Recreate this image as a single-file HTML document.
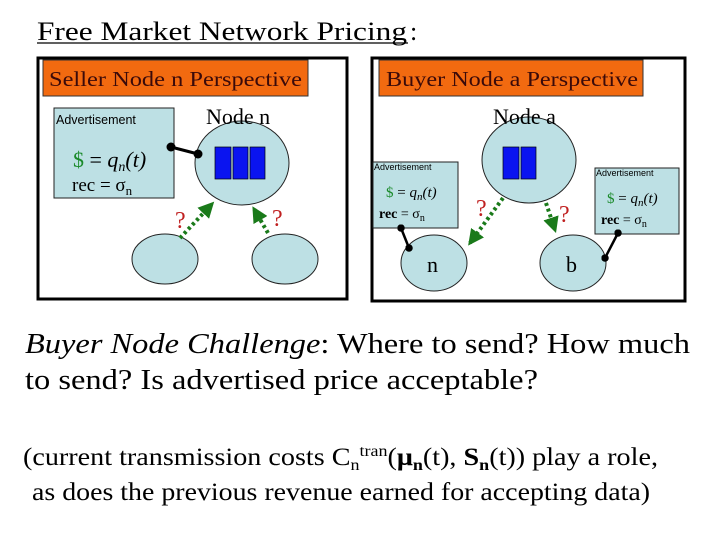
<!DOCTYPE html>
<html><head><meta charset="utf-8"><style>
html,body{margin:0;padding:0;background:#fff;}
svg{display:block;font-family:"Liberation Serif",serif;}
.s{font-family:"Liberation Sans",sans-serif;}
</style></head><body>
<svg width="720" height="540" viewBox="0 0 720 540" xmlns="http://www.w3.org/2000/svg">
<defs>
<marker id="ah" viewBox="0 0 10 10" refX="8" refY="5" markerWidth="4" markerHeight="4" orient="auto"><path d="M0,0 L10,5 L0,10 z" fill="#1a7a1a"/></marker>
<marker id="dot" viewBox="0 0 10 10" refX="5" refY="5" markerWidth="3" markerHeight="3"><circle cx="5" cy="5" r="5" fill="#000"/></marker>
</defs>
<text x="37" y="40" font-size="26" textLength="370" lengthAdjust="spacingAndGlyphs">Free Market Network Pricing</text>
<text x="410" y="40" font-size="26">:</text>
<line x1="37" y1="43" x2="408" y2="43" stroke="#000" stroke-width="1.2"/>

<!-- Left panel -->
<rect x="38" y="58" width="309" height="241" fill="#fff" stroke="#000" stroke-width="3"/>
<rect x="43" y="60" width="265" height="36" fill="#f26a10" stroke="#333" stroke-width="1"/>
<text x="49" y="86" font-size="21" fill="#3a0a0a" textLength="253" lengthAdjust="spacingAndGlyphs">Seller  Node n Perspective</text>
<rect x="54" y="108" width="120" height="90" fill="#bde0e4" stroke="#222" stroke-width="1"/>
<text class="s" x="56" y="124" font-size="12.5">Advertisement</text>
<text x="73" y="167" font-size="22"><tspan fill="#1a8a2a">$</tspan> = <tspan font-style="italic">q<tspan font-size="14" dy="4">n</tspan><tspan dy="-4">(t)</tspan></tspan></text>
<text x="72" y="191" font-size="19">rec = σ<tspan font-size="13" dy="4">n</tspan></text>
<ellipse cx="242" cy="163" rx="47" ry="42" fill="#bde0e4" stroke="#222" stroke-width="1"/>
<text x="206" y="124" font-size="22">Node n</text>
<rect x="215" y="147" width="16" height="32" fill="#0a14f0" stroke="#000" stroke-width="0.7"/>
<rect x="233" y="147" width="15" height="32" fill="#0a14f0" stroke="#000" stroke-width="0.7"/>
<rect x="250" y="147" width="15" height="32" fill="#0a14f0" stroke="#000" stroke-width="0.7"/>
<line x1="171" y1="147" x2="198" y2="154" stroke="#000" stroke-width="3" marker-start="url(#dot)" marker-end="url(#dot)"/>
<ellipse cx="165" cy="259" rx="33" ry="25" fill="#bde0e4" stroke="#222" stroke-width="1"/>
<ellipse cx="285" cy="259" rx="33" ry="25" fill="#bde0e4" stroke="#222" stroke-width="1"/>
<line x1="180" y1="238" x2="212" y2="204" stroke="#1a7a1a" stroke-width="4" stroke-dasharray="3,3" marker-end="url(#ah)"/>
<line x1="268" y1="233" x2="254" y2="209" stroke="#1a7a1a" stroke-width="4" stroke-dasharray="3,3" marker-end="url(#ah)"/>
<text x="175" y="228" font-size="24" fill="#c02020">?</text>
<text x="272" y="226" font-size="24" fill="#c02020">?</text>

<!-- Right panel -->
<rect x="372" y="58" width="313" height="243" fill="#fff" stroke="#000" stroke-width="3"/>
<rect x="379" y="60" width="264" height="36" fill="#f26a10" stroke="#333" stroke-width="1"/>
<text x="386" y="86" font-size="21" fill="#3a0a0a" textLength="252" lengthAdjust="spacingAndGlyphs">Buyer  Node a Perspective</text>
<ellipse cx="529" cy="160" rx="47" ry="43" fill="#bde0e4" stroke="#222" stroke-width="1"/>
<text x="493" y="124" font-size="22">Node a</text>
<rect x="503" y="147" width="16" height="32" fill="#0a14f0" stroke="#000" stroke-width="0.7"/>
<rect x="521" y="147" width="15" height="32" fill="#0a14f0" stroke="#000" stroke-width="0.7"/>
<rect x="373" y="162" width="85" height="66" fill="#bde0e4" stroke="#222" stroke-width="1"/>
<text class="s" x="374" y="170" font-size="9">Advertisement</text>
<text x="386" y="197" font-size="15"><tspan fill="#1a8a2a">$</tspan> = <tspan font-style="italic">q<tspan font-size="11" dy="3">n</tspan><tspan dy="-3">(t)</tspan></tspan></text>
<text x="379" y="218" font-size="14"><tspan font-weight="bold">rec</tspan> = σ<tspan font-size="10" dy="3">n</tspan></text>
<rect x="595" y="168" width="84" height="66" fill="#bde0e4" stroke="#222" stroke-width="1"/>
<text class="s" x="596" y="176" font-size="9">Advertisement</text>
<text x="607" y="203" font-size="15"><tspan fill="#1a8a2a">$</tspan> = <tspan font-style="italic">q<tspan font-size="11" dy="3">n</tspan><tspan dy="-3">(t)</tspan></tspan></text>
<text x="601" y="224" font-size="14"><tspan font-weight="bold">rec</tspan> = σ<tspan font-size="10" dy="3">n</tspan></text>
<ellipse cx="434" cy="263" rx="33" ry="28" fill="#bde0e4" stroke="#222" stroke-width="1"/>
<ellipse cx="573" cy="263" rx="33" ry="28" fill="#bde0e4" stroke="#222" stroke-width="1"/>
<text x="427" y="272" font-size="22">n</text>
<text x="566" y="272" font-size="22">b</text>
<line x1="503" y1="198" x2="470" y2="243" stroke="#1a7a1a" stroke-width="4" stroke-dasharray="3,3" marker-end="url(#ah)"/>
<line x1="546" y1="203" x2="555" y2="230" stroke="#1a7a1a" stroke-width="4" stroke-dasharray="3,3" marker-end="url(#ah)"/>
<line x1="401" y1="228" x2="409" y2="248" stroke="#000" stroke-width="2.5" marker-start="url(#dot)" marker-end="url(#dot)"/>
<line x1="618" y1="233" x2="605" y2="258" stroke="#000" stroke-width="2.5" marker-start="url(#dot)" marker-end="url(#dot)"/>
<text x="476" y="216" font-size="24" fill="#c02020">?</text>
<text x="559" y="222" font-size="24" fill="#c02020">?</text>

<!-- Bottom text -->
<text x="25" y="353" font-size="28" textLength="665" lengthAdjust="spacingAndGlyphs"><tspan font-style="italic">Buyer Node Challenge</tspan>:  Where to send? How much</text>
<text x="25" y="389" font-size="28" textLength="513" lengthAdjust="spacingAndGlyphs">to send? Is advertised price acceptable?</text>
<text x="23" y="465" font-size="25" textLength="635" lengthAdjust="spacingAndGlyphs">(current transmission costs C<tspan font-size="16" dy="5">n</tspan><tspan font-size="16" dy="-14">tran</tspan><tspan dy="9">(</tspan><tspan font-weight="bold">μ</tspan><tspan font-weight="bold" font-size="16" dy="5">n</tspan><tspan dy="-5">(t), </tspan><tspan font-weight="bold">S</tspan><tspan font-weight="bold" font-size="16" dy="5">n</tspan><tspan dy="-5">(t)) play a role,</tspan></text>
<text x="32" y="500" font-size="25" textLength="618" lengthAdjust="spacingAndGlyphs">as does the previous revenue earned for accepting data)</text>
</svg>
</body></html>
